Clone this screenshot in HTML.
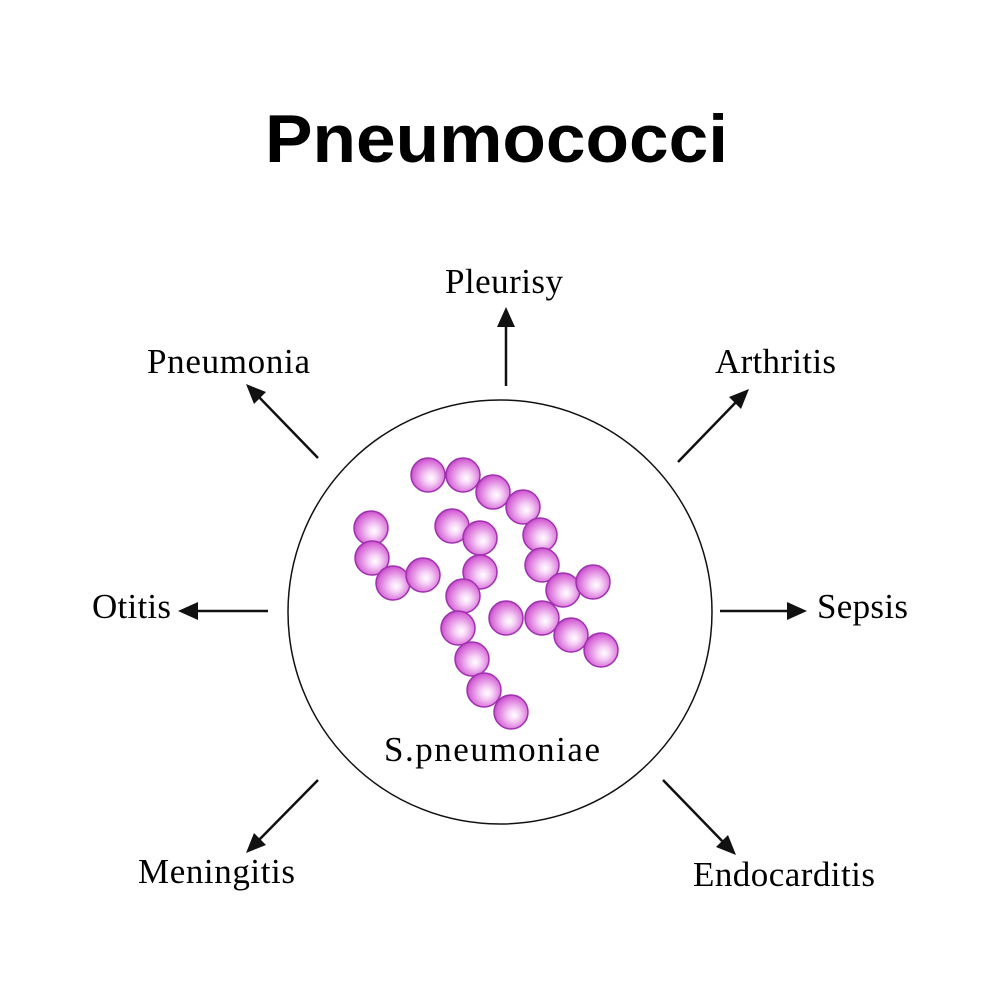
<!DOCTYPE html>
<html><head><meta charset="utf-8"><style>
html,body{margin:0;padding:0;background:#fff;}
svg{display:block;}
</style></head><body>
<svg width="1000" height="1000" viewBox="0 0 1000 1000" xmlns="http://www.w3.org/2000/svg">
<defs>
<radialGradient id="b" cx="0.55" cy="0.55" r="0.6" fx="0.6" fy="0.6">
<stop offset="0" stop-color="#ffffff"/>
<stop offset="0.3" stop-color="#f6d0f6"/>
<stop offset="0.8" stop-color="#d86ad8"/>
<stop offset="1" stop-color="#b23cbc"/>
</radialGradient>
</defs>
<rect width="1000" height="1000" fill="#fff"/>
<text x="265" y="162" font-family="Liberation Sans, sans-serif" font-weight="bold" font-size="68" textLength="463" lengthAdjust="spacingAndGlyphs" fill="#000">Pneumococci</text>
<circle cx="500" cy="612" r="212" fill="none" stroke="#111" stroke-width="1.5"/>
<g fill="url(#b)" stroke="#a030b0" stroke-width="1.5">
<circle cx="428" cy="475" r="17"/><circle cx="463" cy="475" r="17"/>
<circle cx="493" cy="492" r="17"/><circle cx="523" cy="507" r="17"/>
<circle cx="540" cy="535" r="17"/><circle cx="542" cy="565" r="17"/>
<circle cx="563" cy="590" r="17"/><circle cx="593" cy="582" r="17"/>
<circle cx="371" cy="528" r="17"/><circle cx="372" cy="558" r="17"/>
<circle cx="393" cy="583" r="17"/><circle cx="423" cy="575" r="17"/>
<circle cx="452" cy="526" r="17"/><circle cx="480" cy="538" r="17"/>
<circle cx="480" cy="572" r="17"/><circle cx="463" cy="596" r="17"/>
<circle cx="458" cy="628" r="17"/><circle cx="472" cy="659" r="17"/>
<circle cx="484" cy="690" r="17"/><circle cx="511" cy="712" r="17"/>
<circle cx="506" cy="618" r="17"/><circle cx="542" cy="618" r="17"/>
<circle cx="571" cy="635" r="17"/><circle cx="601" cy="650" r="17"/>
</g>
<g font-family="Liberation Serif, serif" font-size="35" fill="#000" lengthAdjust="spacingAndGlyphs">
<text x="384" y="761" textLength="216">S.pneumoniae</text>
<text x="445" y="293" textLength="118">Pleurisy</text>
<text x="147" y="373" textLength="163">Pneumonia</text>
<text x="715" y="373" textLength="121">Arthritis</text>
<text x="92" y="618" textLength="79">Otitis</text>
<text x="817" y="618" textLength="91">Sepsis</text>
<text x="138" y="883" textLength="157">Meningitis</text>
<text x="693" y="886" textLength="182">Endocarditis</text>
</g>
<g stroke="#111" stroke-width="2.5" fill="#111">
<line x1="506" y1="386" x2="506" y2="322"/><polygon points="506,307 497,327 515,327" stroke="none"/>
<line x1="318" y1="458" x2="256" y2="394"/><polygon points="246,384 254,404 266,392" stroke="none"/>
<line x1="678" y1="462" x2="739" y2="399"/><polygon points="749,389 729,397 741,409" stroke="none"/>
<line x1="268" y1="611" x2="192" y2="611"/><polygon points="178,611 198,602 198,620" stroke="none"/>
<line x1="720" y1="611" x2="793" y2="611"/><polygon points="807,611 787,602 787,620" stroke="none"/>
<line x1="318" y1="780" x2="256" y2="843"/><polygon points="246,853 254,833 266,845" stroke="none"/>
<line x1="663" y1="780" x2="726" y2="845"/><polygon points="736,855 716,847 728,835" stroke="none"/>
</g>
</svg>
</body></html>
